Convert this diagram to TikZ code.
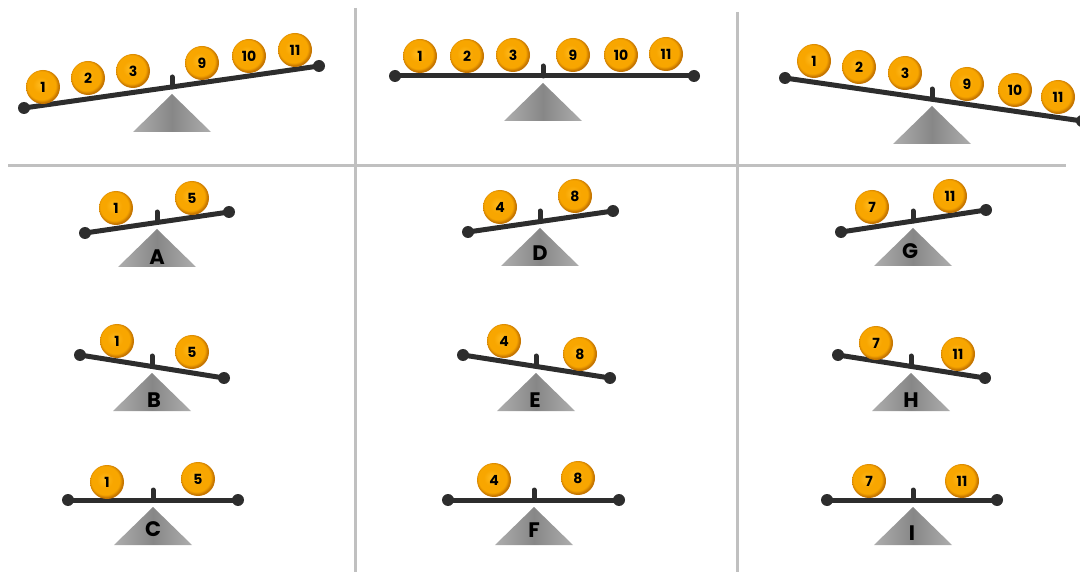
\documentclass[tikz,border=0pt]{standalone}
\usepackage{fontspec}
\newfontfamily\ballfont{Poppins}
\usepackage{tikz}
\usetikzlibrary{calc}
\definecolor{ballcore}{RGB}{248,166,0}
\definecolor{ballhi}{RGB}{255,186,30}
\definecolor{ballrim}{RGB}{196,116,0}
\definecolor{beamgray}{RGB}{45,45,45}
\definecolor{gridgray}{RGB}{192,192,192}
\pgfdeclareradialshading{ballglow}{\pgfpoint{-4bp}{4bp}}{color(0bp)=(ballhi); color(12bp)=(ballcore); color(21bp)=(ballcore); color(25bp)=(ballrim); color(50bp)=(ballrim)}
\tikzset{
  ball/.style={circle, minimum size=34pt, inner sep=0pt, shade, shading=ballglow,
               font=\ballfont\bfseries\fontsize{14}{14}\selectfont, text=black},
  beam/.style={line width=5pt, draw=beamgray},
  beamend/.style={fill=beamgray},
  pivotstub/.style={line width=5pt, draw=beamgray, line cap=round},
  fulcrum/.style={left color=black!32, right color=black!32, middle color=black!47},
  caselabel/.style={font=\ballfont\bfseries\fontsize{21}{21}\selectfont, inner sep=0pt},
  gridline/.style={line width=3pt, draw=gridgray},
}

\begin{document}
\begin{tikzpicture}[x=1pt,y=-1pt]
  \useasboundingbox (0,0) rectangle (1080,572);

  % grid
  \draw[gridline] (8,166)--(1066,166);
  \draw[gridline] (355,8)--(355,572);
  \draw[gridline] (737,12)--(737,572);

  % seesaws: left end / right end / pivot
  \foreach \lx/\ly/\rx/\ry/\px/\py in {
      24/108/319/66/172/87, 395/76/694/76/543/76, 785/78/1082/121/932/99,
      85/233/229/212/157/222, 468/232/613/211/540/221, 841/232/986/210/913/221,
      80/355/224/378/152/366, 463/355/610/378/536/366, 838/355/985/378/911/366,
      68/500/238/500/153/500, 448/500/619/500/534/500, 827/500/997/500/913/500}{
    \shade[fulcrum] (\px,\py+7) -- (\px+39,\py+45) -- (\px-39,\py+45) -- cycle;
    \draw[beam] (\lx,\ly) -- (\rx,\ry);
    \fill[beamend] (\lx,\ly) circle (6);
    \fill[beamend] (\rx,\ry) circle (6);
    \draw[pivotstub] (\px,\py) -- (\px,\py-10);
  }

  % balls, top row
  \foreach \n/\x/\y in {1/43/87, 2/88/78, 3/133/71, 9/202/63, 10/249/56, 11/295/50}
    \node[ball] (tl\n) at (\x,\y) {\n};
  \foreach \n/\x/\y in {1/420/56, 2/467/56, 3/513/55, 9/573/55, 10/621/55, 11/666/54}
    \node[ball] (tm\n) at (\x,\y) {\n};
  \foreach \n/\x/\y in {1/814/61, 2/859/67, 3/905/73, 9/967/84, 10/1015/90, 11/1058/97}
    \node[ball] (tr\n) at (\x,\y) {\n};

  % balls, cases A to I
  \foreach \c/\n/\x/\y in {
      A/1/116/208, A/5/192/198, D/4/500/207, D/8/575/196, G/7/872/207, G/11/950/196,
      B/1/117/341, B/5/192/352, E/4/504/341, E/8/580/354, H/7/876/343, H/11/958/354,
      C/1/107/482, C/5/198/479, F/4/494/480, F/8/578/478, I/7/869/481, I/11/962/481}
    \node[ball] (ball\c\n) at (\x,\y) {\n};

  % case letters on the fulcrums
  \foreach \c/\x/\y in {
      A/157/257, D/540/253, G/910/251,
      B/154/400, E/535/400, H/911/400,
      C/153/529, F/534/530, I/912/533}
    \node[caselabel] (case\c) at (\x,\y) {\c};
\end{tikzpicture}
\end{document}
